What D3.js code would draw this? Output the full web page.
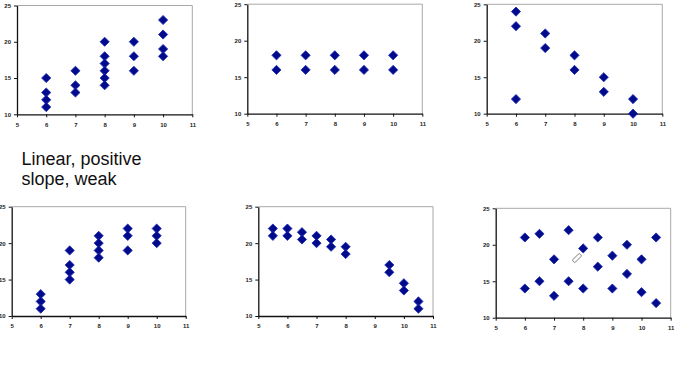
<!DOCTYPE html>
<html><head><meta charset="utf-8">
<script src="https://cdn.jsdelivr.net/npm/d3@7"></script>
<style>
html,body{margin:0;padding:0;background:#fff;}
svg{display:block;}
.tick text{font-family:"Liberation Sans",Arial,sans-serif;font-size:6px;font-weight:bold;fill:#222;}
</style></head>
<body>
<svg id="c" width="696" height="368"></svg>
<script>
const xTicks = [5, 6, 7, 8, 9, 10, 11];
const yTicks = [10, 15, 20, 25];
const caption = ["Linear, positive", "slope, weak"];

const p1X = [6,6,6,6, 7,7,7, 8,8,8,8,8,8, 9,9,9, 10,10,10,10];
const p1Y = [15,13,12,11, 16,14,13, 20,18,17,16,15,14, 20,18,16, 23,21,19,18];

const p2X = [6,6, 7,7, 8,8, 9,9, 10,10];
const p2Y = [18,16, 18,16, 18,16, 18,16, 18,16];

const p3X = [6,6,6, 7,7, 8,8, 9,9, 10,10];
const p3Y = [24,22,12, 21,19, 18,16, 15,13, 12,10];

const p4X = [6,6,6, 7,7,7,7, 8,8,8,8, 9,9,9, 10,10,10];
const p4Y = [13,12,11, 19,17,16,15, 21,20,19,18, 22,21,19, 22,21,20];

const p5X = [5.5,5.5, 6,6, 6.5,6.5, 7,7, 7.5,7.5, 8,8, 9.5,9.5, 10,10, 10.5,10.5];
const p5Y = [22,21, 22,21, 21.5,20.5, 21,20, 20.5,19.5, 19.5,18.5, 17,16, 14.5,13.5, 12,11];

const p6X = [6,6, 6.5,6.5, 7,7, 7.5,7.5, 8,8, 8.5,8.5, 9,9, 9.5,9.5, 10,10, 10.5,10.5];
const p6Y = [21,14, 21.5,15, 18,13, 22,15, 19.5,14, 21,17, 18.5,14, 20,16, 18,13.5, 21,12];

const panels = [
  {xs:p1X, ys:p1Y, l:17,    r:192.3, t:5.5,   b:114.3},
  {xs:p2X, ys:p2Y, l:247.3, r:422.3, t:4.2,   b:113.7},
  {xs:p3X, ys:p3Y, l:486.7, r:662.3, t:4.3,   b:113.7},
  {xs:p4X, ys:p4Y, l:11.7,  r:185.7, t:206.7, b:316},
  {xs:p5X, ys:p5Y, l:258.3, r:433,   t:206.7, b:316},
  {xs:p6X, ys:p6Y, l:495.7, r:670.7, t:208.3, b:317.7}
];

const svg = d3.select("#c");
const diamond = d3.symbol().type(d3.symbolSquare).size(42);
const fmt = d3.format("d");

panels.forEach(p => {
  const x = d3.scaleLinear().domain([5, 11]).range([p.l, p.r]);
  const y = d3.scaleLinear().domain([10, 25]).range([p.b, p.t]);
  const g = svg.append("g");
  g.append("path")
    .attr("d", `M${p.l},${p.t}H${p.r}V${p.b}`)
    .attr("fill", "none").attr("stroke", "#a8a8a8").attr("stroke-width", 1);
  const ya = g.append("g").attr("transform", `translate(${p.l},0)`)
    .call(d3.axisLeft(y).tickValues(yTicks).tickFormat(fmt).tickSize(3).tickPadding(3).tickSizeOuter(0));
  const xa = g.append("g").attr("transform", `translate(0,${p.b})`)
    .call(d3.axisBottom(x).tickValues(xTicks).tickFormat(fmt).tickSize(3).tickPadding(5).tickSizeOuter(0));
  [ya, xa].forEach(a => {
    a.select(".domain").attr("stroke", "#111").attr("stroke-width", 1.3);
    a.selectAll(".tick line").attr("stroke", "#111");
  });
  g.selectAll("path.pt").data(d3.range(p.xs.length)).enter().append("path")
    .attr("class", "pt")
    .attr("d", diamond)
    .attr("transform", i => `translate(${x(p.xs[i])},${y(p.ys[i])}) rotate(45)`)
    .attr("fill", "#000a8a")
    .attr("stroke", "#1c2bb0")
    .attr("stroke-width", 0.8);
});

// small pencil cursor in last panel
svg.append("rect")
  .attr("x", -1.8).attr("y", -5).attr("width", 3.6).attr("height", 10).attr("rx", 1.2)
  .attr("transform", "translate(577,258) rotate(45)")
  .attr("fill", "#fff").attr("stroke", "#777").attr("stroke-width", 0.9);

svg.append("text")
  .attr("x", 21.5).attr("y", 164.5)
  .attr("font-family", "'Liberation Sans', Arial, sans-serif")
  .attr("font-size", 18).attr("fill", "#111")
  .selectAll("tspan").data(caption).enter().append("tspan")
  .attr("x", 21.5).attr("dy", (d, i) => i === 0 ? 0 : 20)
  .text(d => d);
</script>
</body></html>
